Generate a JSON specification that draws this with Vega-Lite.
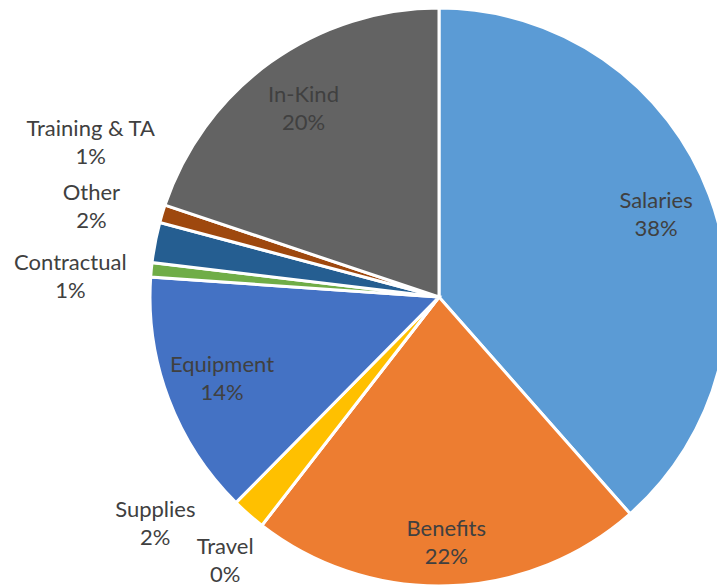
{
  "$schema": "https://vega.github.io/schema/vega-lite/v6.json",
  "width": 717,
  "height": 586,
  "autosize": {"type": "none"},
  "padding": 0,
  "background": "white",
  "view": {"stroke": null},
  "config": {"text": {"font": "Lato", "fontSize": 22, "fill": "#404040", "lineBreak": "\n", "lineHeight": 28, "align": "center", "baseline": "middle"}},
  "data": {
    "values": [
      {"idx": 1, "name": "Salaries", "share": 38.5, "label": "Salaries\n38%"},
      {"idx": 2, "name": "Benefits", "share": 22.0, "label": "Benefits\n22%"},
      {"idx": 3, "name": "Travel", "share": 0, "label": "Travel\n0%"},
      {"idx": 4, "name": "Supplies", "share": 1.9, "label": "Supplies\n2%"},
      {"idx": 5, "name": "Equipment", "share": 13.7, "label": "Equipment\n14%"},
      {"idx": 6, "name": "Contractual", "share": 0.8, "label": "Contractual\n1%"},
      {"idx": 7, "name": "Other", "share": 2.25, "label": "Other\n2%"},
      {"idx": 8, "name": "Training & TA", "share": 1.0, "label": "Training & TA\n1%"},
      {"idx": 9, "name": "In-Kind", "share": 19.85, "label": "In-Kind\n20%"}
    ]
  },
  "encoding": {
    "theta": {"field": "share", "type": "quantitative", "stack": true},
    "order": {"field": "idx", "type": "quantitative"},
    "x": {"value": 439},
    "y": {"value": 297}
  },
  "layer": [
    {
      "mark": {"type": "arc", "outerRadius": 289, "stroke": "white", "strokeWidth": 3},
      "encoding": {
        "color": {
          "field": "name",
          "type": "nominal",
          "scale": {
            "domain": ["Salaries", "Benefits", "Travel", "Supplies", "Equipment", "Contractual", "Other", "Training & TA", "In-Kind"],
            "range": ["#5B9BD5", "#ED7D31", "#A5A5A5", "#FFC000", "#4472C4", "#70AD47", "#255E91", "#9E480E", "#636363"]
          },
          "legend": null
        }
      }
    },
    {
      "mark": {"type": "text", "radius": 232, "dy": -14},
      "encoding": {
        "detail": {"field": "name"},
        "text": {"condition": {"test": "indexof(['Salaries','In-Kind','Equipment'], datum.name) >= 0", "field": "label"}, "value": ""}
      }
    },
    {
      "mark": {"type": "text", "radius": 232, "dy": 0},
      "encoding": {
        "detail": {"field": "name"},
        "text": {"condition": {"test": "datum.name == 'Benefits'", "field": "label"}, "value": ""}
      }
    },
    {
      "mark": {"type": "text", "radius": 300, "dx": -61, "dy": -82},
      "encoding": {
        "detail": {"field": "name"},
        "text": {"condition": {"test": "datum.name == 'Training & TA'", "field": "label"}, "value": ""}
      }
    },
    {
      "mark": {"type": "text", "radius": 300, "dx": -53, "dy": -47},
      "encoding": {
        "detail": {"field": "name"},
        "text": {"condition": {"test": "datum.name == 'Other'", "field": "label"}, "value": ""}
      }
    },
    {
      "mark": {"type": "text", "radius": 300, "dx": -70, "dy": -6},
      "encoding": {
        "detail": {"field": "name"},
        "text": {"condition": {"test": "datum.name == 'Contractual'", "field": "label"}, "value": ""}
      }
    },
    {
      "mark": {"type": "text", "radius": 300, "dx": -86, "dy": -13},
      "encoding": {
        "detail": {"field": "name"},
        "text": {"condition": {"test": "datum.name == 'Supplies'", "field": "label"}, "value": ""}
      }
    },
    {
      "mark": {"type": "text", "radius": 300, "dx": -30, "dy": 13},
      "encoding": {
        "detail": {"field": "name"},
        "text": {"condition": {"test": "datum.name == 'Travel'", "field": "label"}, "value": ""}
      }
    }
  ]
}
